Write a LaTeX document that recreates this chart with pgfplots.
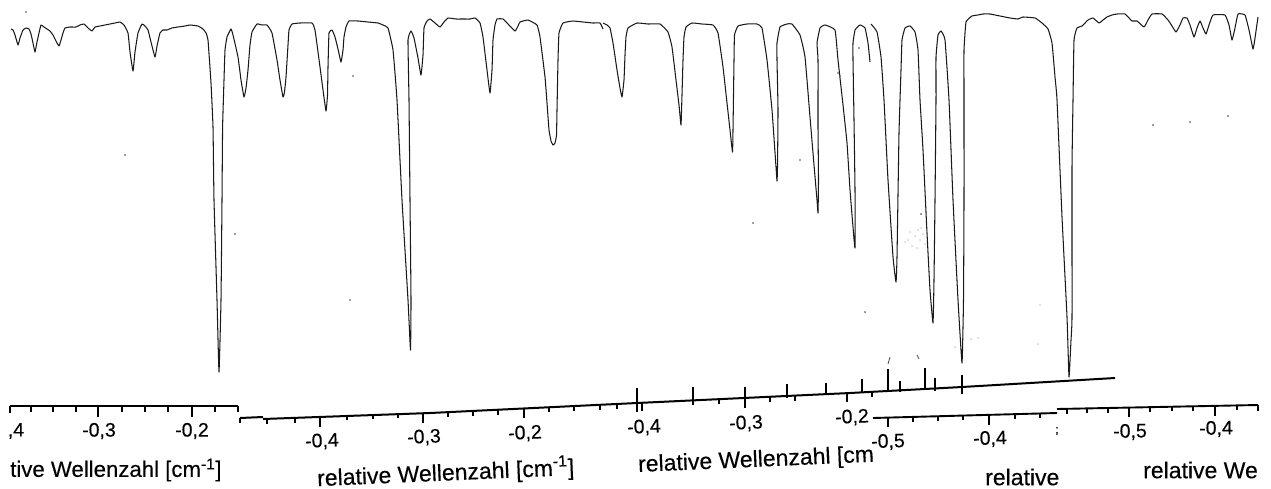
\documentclass[border=0pt]{standalone}
\usepackage{pgfplots}
\pgfplotsset{compat=1.18}
\usepackage{fontspec}
\setmainfont{Liberation Sans}[FakeBold=0.25]
\newcommand{\tl}{\fontsize{19.5}{22}\selectfont}
\newcommand{\ttl}{\fontsize{23}{26}\selectfont}
\newcommand{\supm}{\textsuperscript{-1}}
\begin{document}
\begin{tikzpicture}
\path[use as bounding box] (0,0) rectangle (1271pt,488pt);
\begin{axis}[at={(0,0)},anchor=south west,scale only axis,width=1271pt,height=488pt,
  xmin=0,xmax=1271,ymin=0,ymax=488,y dir=reverse,hide axis,clip=false,unbounded coords=jump]
% spectrum pieces
\addplot[black!90,line width=1.05pt,line join=round,no markers,smooth,tension=0.22] coordinates {
(11,29)(13,30)(15,35)(18,45)(20,38)(23,30)(26,28)(29,29)(31,34)(33,43)(35,52)(37,42)(39,33)(41,25)(44,27)(47,29)(50,31)(53,35)(56,41)(59,46)(61,40)(63,33)(65,28)(70,27)(76,27)(80,25)(84,24)(88,28)(92,31)(95,27)(100,26)(105,25)(110,24)(115,23)(120,22)(124,25)
(128,33)(130,52)(133,71)(135,52)(138,33)(142,24)(145,26)(148,30)(151,42)(155,57)(157,46)(160,33)(163,30)(167,30)(172,28)(178,27)(185,26)(190,25)(198,26)(203,29)(206,33)
(208,40)(211,83)(213,127)(214,200)(217,300)(219,372)(221,300)(222,200)(222.6,127)(224,80)(225,50)(227,37)(231,29)(233,35)(238,57)(241,80)(244,97)(246,88)(248,70)(250,45)(252,32)(257,24)(262,25)(267,25)(272,33)(277,60)(280,80)(283,97)(284.5,92)(286,77)(288,45)(289,30)(292,24)(300,23)(312,23)(315,30)(320,67)(323,90)(326,111)(327.5,95)(328,67)(329,33)(332,30)(335,37)(338,49)(341,62)(343,50)(344,37)(346,27)(349,21)(358,21)(368,22)(378,23)(383,25)(388,28)(393,50)(397,100)(402,200)(408,300)(410.5,350)(411,300)(410,200)(409,100)(408,40)(411,31)(414,38)(418,58)(421,75)(423,55)(424,28)
(427,21)(430,19)(435,23)(440,27)(444,22)(448,18)(456,19)(463,19)(470,19)(475,18)(480,23)(483,37)(487,70)(490,93)(492,70)(493,40)(495,25)(497,19)(503,19)(508,24)(515,31)(518,26)(520,22)(528,20)(537,25)(540,37)(545,77)(547,103)(549,130)(551,141)(553,145)(555,143)(556.5,135)(557,110)(558,60)(559,33)(563,23)(573,21)(583,22)(593,23)(600,23)(603,29)
};
\addplot[black!90,line width=1.05pt,line join=round,no markers,smooth,tension=0.22] coordinates {
(603,23)(607,25)(610,28)(613,43)(617,70)(620,88)(622,97)(624,80)(625,55)(626,37)(628,28)(637,23)(648,24)(660,24)(668,32)(672,47)(676,80)(679,105)(681,125)(682,95)(683,60)(684,37)(686,27)(692,23)(702,24)(713,25)(718,33)(723,67)(727,103)(730,130)(732.5,152)(733,130)(734,60)(734.5,35)(738,26)(747,24)(757,24)(762,28)(767,60)(772,110)(776,167)(777,181)(777.5,167)(778,110)(777,60)(777,43)(780,27)(787,24)(792,24)(800,35)(805,57)(810,117)(814,165)(817,200)(818,213)(818.5,180)(818,127)(818,60)(817,43)(820,28)(825,25)(835,30)(838,60)(843,105)(847,143)(850,190)(853,227)(855,248)(855,190)(854,120)(853,60)(853,43)(855,30)(860,25)(865,28)(868,43)(870,62)
};
\addplot[black!90,line width=1.05pt,line join=round,no markers,smooth,tension=0.22] coordinates {
(871,24)(877,32)(881,57)(884,100)(888,180)(893,257)(896,282)(897,257)(899,133)(901,70)(902,40)(905,28)(910,26)(915,32)(918,50)(920,100)(923,150)(927,233)(930,290)(933,323)(934,280)(935,200)(936,100)(936,57)(938,35)(941,31)(945,40)(949,100)(953,200)(958,300)(962,363)(963.5,300)(964,200)(964,100)(964,50)(966,22)(972,16)(978,15)(983,14)(990,14)(995,15)(1000,16)(1010,18)(1018,19)(1023,17)(1035,18)(1042,23)(1048,29)(1052,43)(1055,77)(1057,100)(1062,217)(1067,317)(1069,377)(1071,340)(1072,317)(1072,167)(1073,100)(1074,40)(1077,28)(1082,26)(1088,20)(1093,18)(1099,23)(1103,20)(1107,17)(1112,15)(1117,14)(1125,14)(1132,21)(1137,21)(1144,27)(1148,20)(1152,14)(1162,14)(1168,20)(1172,26)(1176,32)(1180,25)(1183,18)(1187,18)(1190,25)(1194,37)(1197,28)(1200,21)(1203,28)(1206,34)(1209,25)(1213,15)(1225,15)(1229,25)(1232,40)(1235,28)(1238,14)(1245,15)(1249,30)(1253,49)(1255,38)(1258,17)
};
% baselines
\addplot[black,line width=2.1pt,no markers] coordinates {(10,406)(238,406)};
\addplot[black,line width=2pt,no markers] coordinates {(240,418)(263,417)};
\addplot[black,line width=2pt,no markers] coordinates {(263,419)(430,413)(637,403)(850,393)(962,387)(1115,378)};
\addplot[black,line width=1.9pt,no markers] coordinates {(873,418)(1057,413)};
\addplot[black,line width=1.9pt,no markers] coordinates {(1057,409)(1258,405)};
% ticks, major
\addplot[black,line width=1.5pt,no markers] coordinates {
(98,406)(98,417)(0,nan)(192,406)(192,417)(0,nan)(320,417)(320,427)(0,nan)(423,413)(423,423)(0,nan)(524,408)(524,418)(0,nan)
(847,393)(847,402)(0,nan)(888,417)(888,427)(0,nan)(989,414)(989,425)(0,nan)(1129,407)(1129,417)(0,nan)(1215,405)(1215,416)
};
% ticks, minor
\addplot[black,line width=1.4pt,no markers] coordinates {
(10,406)(10,413)(0,nan)(31,406)(31,412)(0,nan)(53,406)(53,412)(0,nan)(76,406)(76,412)(0,nan)(122,406)(122,412)(0,nan)(145,406)(145,412)(0,nan)(168,406)(168,412)(0,nan)(215,406)(215,412)(0,nan)(238,406)(238,412)(0,nan)(240,418)(240,423)(0,nan)
(267,419)(267,424)(0,nan)(295,418)(295,423)(0,nan)(347,415)(347,420)(0,nan)(373,414)(373,419)(0,nan)(398,413)(398,418)(0,nan)(448,412)(448,417)(0,nan)(473,411)(473,416)(0,nan)(498,410)(498,415)(0,nan)(549,407)(549,412)(0,nan)(574,406)(574,411)(0,nan)(600,405)(600,410)(0,nan)(617,404)(617,409)(0,nan)(642,403)(642,411)(0,nan)(719,399)(719,404)(0,nan)(770,397)(770,402)(0,nan)(795,396)(795,401)(0,nan)(872,391)(872,397)(0,nan)
(913,417)(913,422)(0,nan)(938,416)(938,421)(0,nan)(963,415)(963,420)(0,nan)(1015,414)(1015,419)(0,nan)(1040,413)(1040,418)(0,nan)
(1067,409)(1067,414)(0,nan)(1087,408)(1087,413)(0,nan)(1108,408)(1108,413)(0,nan)(1150,407)(1150,412)(0,nan)(1172,406)(1172,411)(0,nan)(1193,406)(1193,411)(0,nan)(1237,405)(1237,410)(0,nan)(1258,405)(1258,411)
};
% calibration ticks on the sloped line
\addplot[black,line width=1.7pt,no markers] coordinates {
(637,388)(637,412)(0,nan)(693,387)(693,405)(0,nan)(745,387)(745,408)(0,nan)(787,384)(787,398)(0,nan)(826,383)(826,394)(0,nan)(862,379)(862,393)(0,nan)(900,381)(900,392)(0,nan)(935,378)(935,391)(0,nan)(962,375)(962,394)
};
\addplot[black,line width=2.6pt,no markers] coordinates {(888,369)(888,392)(0,nan)(925,368)(925,390)};
\addplot[black!70,line width=0.8pt,no markers] coordinates {(888,364)(890,357)(0,nan)(917,355)(919,359)};
% scan specks
\addplot[only marks,mark=*,mark size=0.7pt,black!60,mark options={draw=none}] coordinates {
(26,12)(353,76)(235,234)(350,300)(800,160)(838,73)(859,48)(865,312)(753,223)(921,214)(1153,125)(1190,122)(1228,116)(125,155)(840,76)};
\addplot[only marks,mark=*,mark size=0.45pt,black!35,mark options={draw=none}] coordinates {
(910,232)(915,236)(918,230)(921,228)(908,240)(912,246)(920,240)(925,244)(923,234)(917,248)(927,232)(905,242)(1038,344)(971,339)(978,338)(955,347)(1040,305)};
% tick labels
\node[font=\tl] at (axis cs:16,431) {,4};
\node[font=\tl] at (axis cs:99,431) {-0,3};
\node[font=\tl] at (axis cs:192,431) {-0,2};
\node[font=\tl,rotate=2.5] at (axis cs:322,441.5) {-0,4};
\node[font=\tl,rotate=2.5] at (axis cs:424,437.5) {-0,3};
\node[font=\tl,rotate=2.5] at (axis cs:525,433.5) {-0,2};
\node[font=\tl,rotate=2.5] at (axis cs:644,427.5) {-0,4};
\node[font=\tl,rotate=2.5] at (axis cs:746,423.5) {-0,3};
\node[font=\tl,rotate=2.5] at (axis cs:852,417.5) {-0,2};
\node[font=\tl,rotate=1.5] at (axis cs:888,442) {-0,5};
\node[font=\tl,rotate=1.5] at (axis cs:990,439) {-0,4};
\node[font=\fontsize{12}{14}\selectfont] at (axis cs:1057,431) {;};
\node[font=\tl,rotate=1] at (axis cs:1130,432) {-0,5};
\node[font=\tl,rotate=1] at (axis cs:1216,429) {-0,4};
% axis titles
\node[font=\fontsize{22.2}{26}\selectfont,anchor=west,inner sep=0pt] at (axis cs:10,470) {tive Wellenzahl [cm\supm]};
\node[font=\ttl,anchor=west,inner sep=0pt,rotate=2.5] at (axis cs:317,478.5) {relative Wellenzahl [cm\supm]};
\node[font=\ttl,anchor=west,inner sep=0pt,rotate=2.5] at (axis cs:638,466) {relative Wellenzahl [cm};
\node[font=\ttl,anchor=west,inner sep=0pt] at (axis cs:985,477) {relative};
\node[font=\ttl,anchor=west,inner sep=0pt] at (axis cs:1143,470) {relative We};
\end{axis}
\end{tikzpicture}
\end{document}
